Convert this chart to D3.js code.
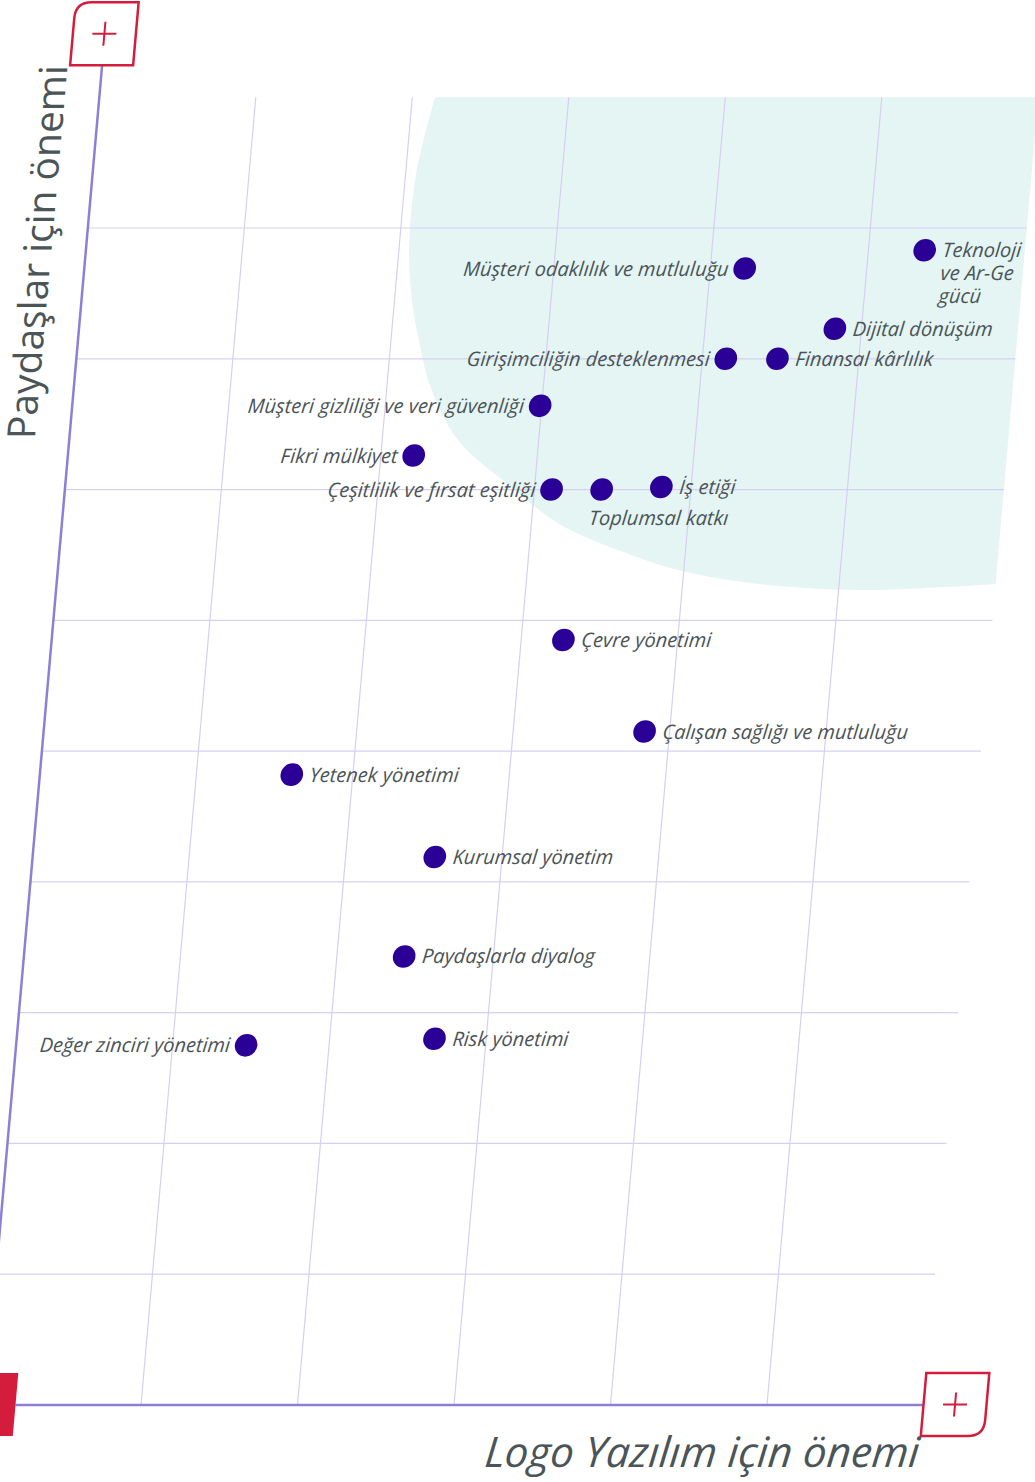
<!DOCTYPE html>
<html>
<head>
<meta charset="utf-8">
<script src="https://cdn.jsdelivr.net/npm/d3@7"></script>
<style>
  html, body { margin: 0; padding: 0; background: #ffffff; }
  svg { display: block; }
</style>
</head>
<body>
<svg id="chart" width="1035" height="1482"></svg>
<script>
// ---- data ----
const topics = [
  "Teknoloji ve Ar-Ge gücü", "Müşteri odaklılık ve mutluluğu", "Dijital dönüşüm",
  "Girişimciliğin desteklenmesi", "Finansal kârlılık", "Müşteri gizliliği ve veri güvenliği",
  "Fikri mülkiyet", "Çeşitlilik ve fırsat eşitliği", "Toplumsal katkı", "İş etiği",
  "Çevre yönetimi", "Çalışan sağlığı ve mutluluğu", "Yetenek yönetimi", "Kurumsal yönetim",
  "Paydaşlarla diyalog", "Değer zinciri yönetimi", "Risk yönetimi"
];
const logoImportance = [5.36, 4.22, 4.83, 4.15, 4.48, 2.99, 2.21, 3.11, 3.43, 3.81, 3.27, 3.84, 1.61, 2.57, 2.43, 1.47, 2.67];
const stakeholderImportance = [8.83, 8.69, 8.23, 8.00, 8.00, 7.64, 7.26, 7.00, 7.00, 7.02, 5.85, 5.15, 4.82, 4.19, 3.43, 2.75, 2.80];
const labelSide = ["right", "left", "right", "left", "right", "left", "left", "left", "below", "right",
                   "right", "right", "right", "right", "right", "left", "right"];
const labelLines = { "Teknoloji ve Ar-Ge gücü": ["Teknoloji", "ve Ar-Ge", "gücü"] };

const xGridValues = [1, 2, 3, 4, 5];
const yGridValues = [1, 2, 3, 4, 5, 6, 7, 8, 9];
const xMax = 6, yGridTop = 10, yAxisTop = 10.245;

// priority zone rounded outline (data units), from top edge round to right edge
const zoneX = [2.145, 2.067, 2.065, 2.112, 2.197, 2.274, 2.484, 2.870, 3.170, 3.568, 3.963, 4.443, 5.137, 6.0];
const zoneY = [10.0, 9.404, 8.830, 8.448, 8.066, 7.798, 7.378, 7.003, 6.743, 6.537, 6.384, 6.284, 6.231, 6.277];

const xTitle = "Logo Yazılım için önemi";
const yTitle = "Paydaşlar için önemi";

// ---- drawing ----
const C = {
  axis: "#8b80d6", grid: "#d6cff3", zone: "#e4f5f4", dot: "#2a0096",
  red: "#d41c3c", text: "#4b5456"
};

const svg = d3.select("#chart");
const g = svg.append("g").attr("transform", "translate(-15.5,1405) skewX(-5.017)");

const x = d3.scaleLinear().domain([0, 6]).range([0, 939]);
const y = d3.scaleLinear().domain([0, 9]).range([0, -1177]);

// zone
const zonePts = zoneX.map((v, i) => [v, zoneY[i]]);
const curvePath = d3.line().x(d => x(d[0])).y(d => y(d[1])).curve(d3.curveCatmullRom.alpha(0.5))(zonePts);
g.append("path")
  .attr("d", `M${x(xMax)},${y(yGridTop)}L` + curvePath.slice(1) + "Z")
  .attr("fill", C.zone).attr("stroke", "none");

// grid
g.selectAll("line.hgrid").data(yGridValues).join("line")
  .attr("class", "hgrid")
  .attr("x1", x(0)).attr("x2", x(xMax))
  .attr("y1", d => y(d)).attr("y2", d => y(d))
  .attr("stroke", C.grid).attr("stroke-width", 1.2);
g.selectAll("line.vgrid").data(xGridValues).join("line")
  .attr("class", "vgrid")
  .attr("x1", d => x(d)).attr("x2", d => x(d))
  .attr("y1", y(0)).attr("y2", y(yGridTop))
  .attr("stroke", C.grid).attr("stroke-width", 1.2);

// axes
g.append("line").attr("x1", 31).attr("x2", x(xMax)).attr("y1", y(0)).attr("y2", y(0))
  .attr("stroke", C.axis).attr("stroke-width", 2.5);
g.append("line").attr("x1", x(0)).attr("x2", x(0)).attr("y1", y(0)).attr("y2", y(yAxisTop))
  .attr("stroke", C.axis).attr("stroke-width", 2.5);

// boxes
const ty = y(yAxisTop); // -1340
g.append("path")
  .attr("d", `M-32,${ty} L-32,${ty - 47} Q-32,${ty - 63} -16,${ty - 63} L31,${ty - 63} L31,${ty} Z`)
  .attr("fill", "#fff").attr("stroke", C.red).attr("stroke-width", 2.5);
const bx = x(xMax);
g.append("path")
  .attr("d", `M${bx},-32 L${bx + 63},-32 L${bx + 63},15 Q${bx + 63},31 ${bx + 47},31 L${bx},31 Z`)
  .attr("fill", "#fff").attr("stroke", C.red).attr("stroke-width", 2.5);
g.append("rect").attr("x", -32).attr("y", -32).attr("width", 63).attr("height", 63)
  .attr("fill", C.red);

function plus(cx, cy) {
  g.append("line").attr("x1", cx - 12).attr("x2", cx + 12).attr("y1", cy).attr("y2", cy)
    .attr("stroke", C.red).attr("stroke-width", 2);
  g.append("line").attr("x1", cx).attr("x2", cx).attr("y1", cy - 12).attr("y2", cy + 12)
    .attr("stroke", C.red).attr("stroke-width", 2);
}
plus(-0.5, ty - 31.5);
plus(bx + 31.5, -0.5);

// points
const pts = topics.map((t, i) => ({ name: t, x: logoImportance[i], y: stakeholderImportance[i], side: labelSide[i] }));

g.selectAll("circle.dot").data(pts).join("circle")
  .attr("class", "dot")
  .attr("cx", d => x(d.x)).attr("cy", d => y(d.y)).attr("r", 11.3)
  .attr("fill", C.dot);

const labels = g.selectAll("text.lbl").data(pts).join("text")
  .attr("class", "lbl")
  .attr("font-family", "'Open Sans', sans-serif")
  .attr("font-style", "italic")
  .attr("font-size", 20)
  .attr("fill", C.text)
  .attr("text-anchor", d => d.side === "left" ? "end" : "start")
  .attr("x", d => d.side === "left" ? x(d.x) - 16 : d.side === "below" ? x(d.x) - 10 : x(d.x) + 18)
  .attr("y", d => d.side === "below" ? y(d.y) + 35 : y(d.y) + 7);

labels.each(function(d) {
  const el = d3.select(this);
  const lines = labelLines[d.name];
  if (lines) {
    el.selectAll("tspan").data(lines).join("tspan")
      .attr("x", x(d.x) + 18)
      .attr("dy", (l, i) => i === 0 ? 0 : 23)
      .text(l => l);
  } else {
    el.text(d.name);
  }
});

// axis titles
g.append("text")
  .attr("x", x(xMax)).attr("y", 62)
  .attr("text-anchor", "end")
  .attr("font-family", "'Open Sans', sans-serif")
  .attr("font-style", "italic")
  .attr("font-size", 42)
  .attr("fill", C.text)
  .text(xTitle);

g.append("text")
  .attr("transform", "rotate(-90)")
  .attr("x", -ty).attr("y", -34.5)
  .attr("text-anchor", "end")
  .attr("font-family", "'Open Sans', sans-serif")
  .attr("font-size", 39)
  .attr("fill", C.text)
  .text(yTitle);
</script>
</body>
</html>
